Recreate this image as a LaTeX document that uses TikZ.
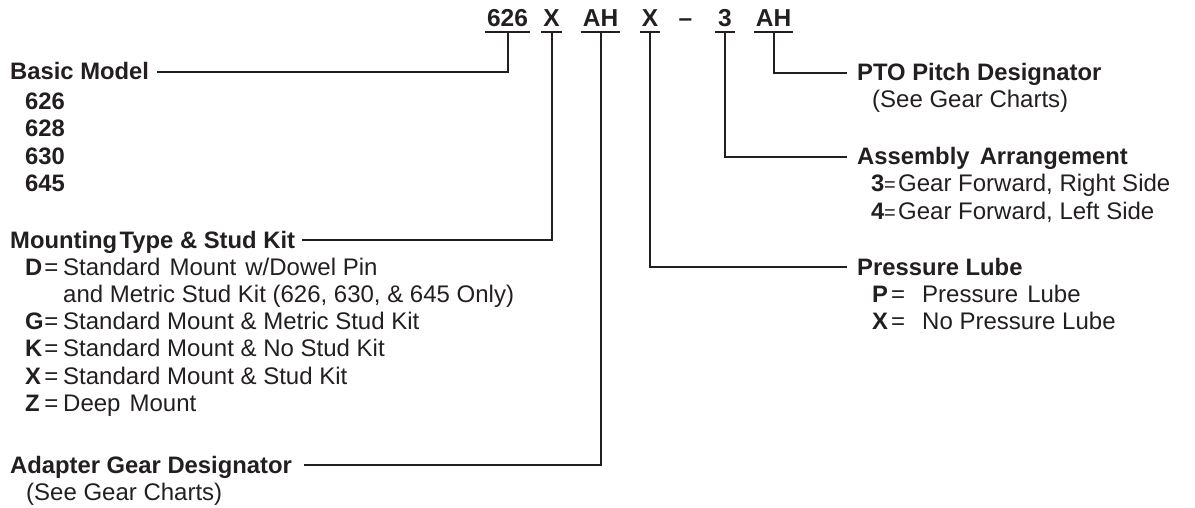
\documentclass[tikz,border=0pt]{standalone}
\usepackage{fontspec}
\setmainfont{Liberation Sans}
\definecolor{ink}{RGB}{35,31,32}
\newcommand\fsz{\fontsize{24}{28}\selectfont}
\newcommand\fbz{\fontsize{23.8}{28}\selectfont}
\tikzset{
  lbl/.style={anchor=base west, inner sep=0pt, font=\fbz\bfseries, text=ink},
  txt/.style={anchor=base west, inner sep=0pt, font=\fsz, text=ink},
  eqs/.style={anchor=base, inner sep=0pt, font=\fsz, text=ink},
  eqsm/.style={anchor=base, inner sep=0pt, font=\fontsize{20}{28}\selectfont, text=ink},
  code/.style={anchor=base, inner xsep=2pt, inner ysep=0pt, text depth=0pt, minimum width=20pt, font=\fontsize{24.5}{28}\selectfont\bfseries, text=ink},
  conn/.style={draw=ink, line width=2pt},
}
\begin{document}
\begin{tikzpicture}[x=1pt,y=-1pt]
\useasboundingbox (0,0) rectangle (1195,508);
% code line
\node[code] (c626) at (507.5,27) {626};
\node[code] (cX1) at (551.5,27) {X};
\node[code] (cAH1) at (600.5,27) {AH};
\node[code] (cX2) at (650,27) {X};
\node[code, minimum width=0pt] (cdash) at (685.5,27) {–};
\node[code] (c3) at (725,27) {3};
\node[code] (cAH2) at (773.5,27) {AH};
\foreach \n in {c626,cX1,cAH1,cX2,c3,cAH2}{
  \draw[conn] ([yshift=-5pt]\n.south west) -- ([yshift=-5pt]\n.south east);
}
% left column
\node[lbl] (basic) at (10,80) {Basic Model};
\node[lbl] (m626) at (25,109.5) {626};
\node[lbl] (m628) at (25,137) {628};
\node[lbl] (m630) at (25,164.5) {630};
\node[lbl] (m645) at (25,192) {645};

\node[lbl] (mount) at (10,248) {Mounting\hspace{0.1em}Type \& Stud Kit};
\node[lbl] (kD) at (25,275) {D};
\node[eqs] (eD) at (51.5,275) {=};
\node[txt] (tD) at (63,275) {Standard\hspace{0.1em} Mount\hspace{0.1em} w/Dowel Pin};
\node[txt] (tD2) at (63,302.3) {and Metric Stud Kit (626, 630, \& 645 Only)};
\node[lbl] (kG) at (25,329.6) {G};
\node[eqs] (eG) at (51.5,329.6) {=};
\node[txt] (tG) at (63,329.6) {Standard Mount \& Metric Stud Kit};
\node[lbl] (kK) at (25,356.9) {K};
\node[eqs] (eK) at (51.5,356.9) {=};
\node[txt] (tK) at (63,356.9) {Standard Mount \& No Stud Kit};
\node[lbl] (kX) at (25,384.2) {X};
\node[eqs] (eX) at (51.5,384.2) {=};
\node[txt] (tX) at (63,384.2) {Standard Mount \& Stud Kit};
\node[lbl] (kZ) at (25,411.5) {Z};
\node[eqs] (eZ) at (51.5,411.5) {=};
\node[txt] (tZ) at (63,411.5) {Deep\hspace{0.1em} Mount};

\node[lbl] (adapt) at (10,473) {Adapter Gear Designator};
\node[txt] (adsee) at (26,500) {(See Gear Charts)};

% right column
\node[lbl] (pto) at (857,81) {PTO Pitch Designator};
\node[txt] (ptosee) at (872,108) {(See Gear Charts)};

\node[lbl] (asm) at (857,165) {Assembly\hspace{0.15em} Arrangement};
\node[lbl] (k3) at (871,192) {3};
\node[eqsm] (e3) at (890,192) {=};
\node[txt] (t3) at (898,192) {Gear Forward, Right Side};
\node[lbl] (k4) at (871,219) {4};
\node[eqsm] (e4) at (890,219) {=};
\node[txt] (t4) at (898,219) {Gear Forward, Left Side};

\node[lbl] (press) at (857,275) {Pressure Lube};
\node[lbl] (kP) at (872,302) {P};
\node[eqs] (eP) at (898,302) {=};
\node[txt] (tP) at (922,302) {Pressure\hspace{0.1em} Lube};
\node[lbl] (kXp) at (872,329) {X};
\node[eqs] (eXp) at (898,329) {=};
\node[txt] (tXp) at (922,329) {No Pressure Lube};

% connectors
\draw[conn] ([yshift=-5pt]c626.south) |- ([xshift=8pt,yshift=8pt]basic.base east);
\draw[conn] ([yshift=-5pt]cX1.south) |- ([xshift=7pt,yshift=8pt]mount.base east);
\draw[conn] ([yshift=-5pt]cAH1.south) |- ([xshift=12pt,yshift=8pt]adapt.base east);
\draw[conn] ([yshift=-5pt]cX2.south) |- ([xshift=-10pt,yshift=8pt]press.base west);
\draw[conn] ([yshift=-5pt]c3.south) |- ([xshift=-10pt,yshift=8pt]asm.base west);
\draw[conn] ([yshift=-5pt]cAH2.south) |- ([xshift=-10pt,yshift=8pt]pto.base west);
\end{tikzpicture}
\end{document}
